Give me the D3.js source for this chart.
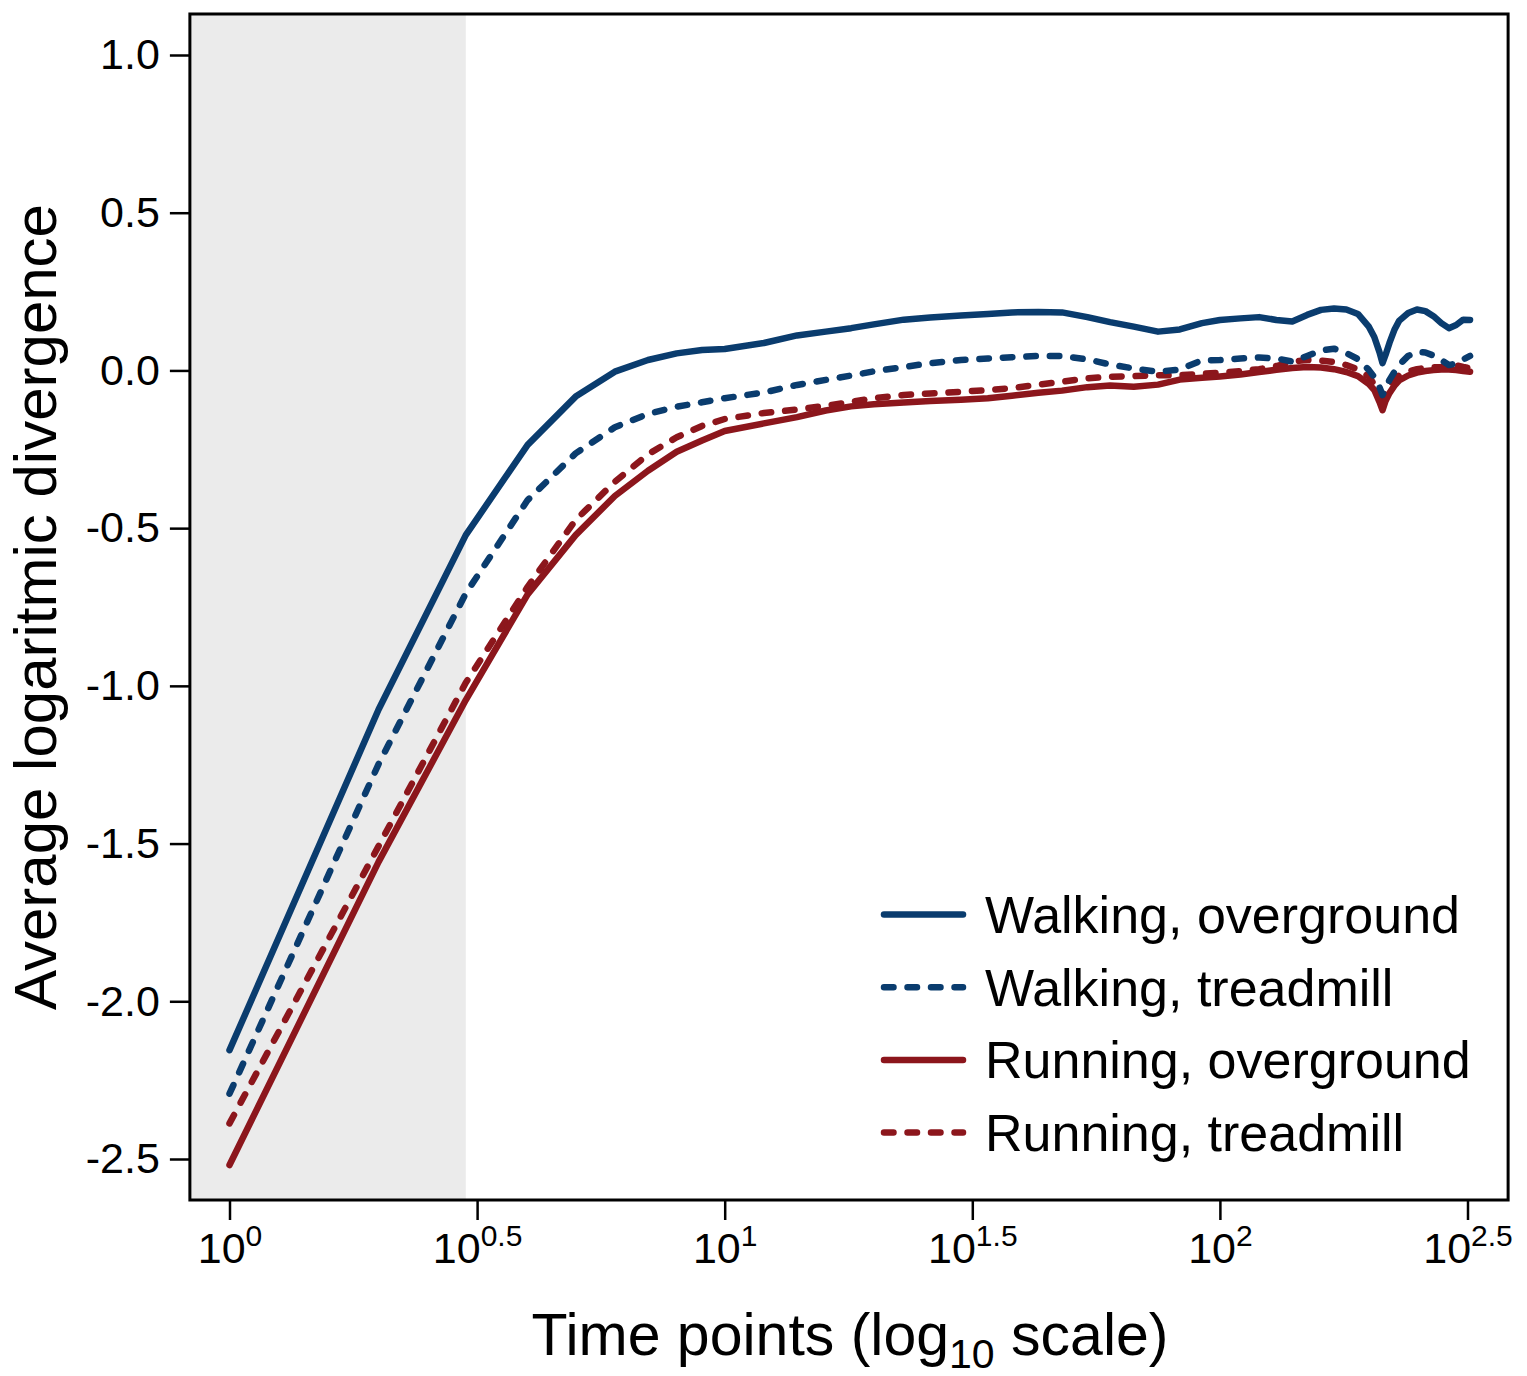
<!DOCTYPE html>
<html>
<head>
<meta charset="utf-8">
<script src="https://cdn.jsdelivr.net/npm/d3@7"></script>
<style>
  html, body { margin: 0; padding: 0; background: #ffffff; }
  svg { display: block; font-family: "Liberation Sans", Arial, Helvetica, sans-serif; }
</style>
</head>
<body>
<svg id="chart" width="1527" height="1376"></svg>
<script>
// Time points (lag, in samples) at which the divergence curves are drawn
const timePoints = [1,2,3,4,5,6,7,8,9,10,12,14,16,18,20,23,26,30,34,38,43,48,54,60,67,75,83,92,
  100,110,120,130,140,150,160,170,180,190,200,205,210,213,216,220,225,230,
  240,250,260,270,280,290,300,310,320];

const walkingOverground = [-2.155,-1.075,-0.522,-0.236,-0.083,-0.004,0.033,0.054,0.065,0.068,
  0.087,0.111,0.123,0.134,0.146,
  0.161,0.168,0.174,0.179,0.184,0.185,0.184,0.169,0.153,0.139,0.123,0.130,0.150,
  0.160,0.165,0.169,0.160,0.155,0.176,0.192,0.196,0.193,0.179,0.138,
  0.106,0.058,0.023,0.049,0.087,0.128,0.157,
  0.182,0.193,0.188,0.172,0.150,0.134,0.144,0.161,0.160];

const walkingTreadmill = [-2.293,-1.248,-0.707,-0.411,-0.263,-0.180,-0.138,-0.115,-0.101,-0.088,
  -0.070,-0.046,-0.030,-0.016,-0.003,
  0.011,0.023,0.033,0.038,0.042,0.046,0.046,0.035,0.019,0.006,-0.004,0.003,0.032,
  0.033,0.038,0.041,0.038,0.028,0.046,0.063,0.069,0.055,0.036,0.001,
  -0.021,-0.053,-0.078,-0.059,-0.030,-0.005,0.017,
  0.046,0.059,0.057,0.047,0.033,0.017,0.022,0.035,0.046];

const runningOverground = [-2.519,-1.558,-1.045,-0.710,-0.522,-0.398,-0.318,-0.258,-0.222,-0.192,
  -0.168,-0.148,-0.127,-0.114,-0.107,
  -0.102,-0.097,-0.093,-0.088,-0.080,-0.071,-0.064,-0.053,-0.048,-0.052,-0.045,-0.029,-0.023,
  -0.019,-0.013,-0.005,0.002,0.008,0.011,0.009,0.004,-0.005,-0.018,-0.043,
  -0.062,-0.100,-0.126,-0.097,-0.072,-0.049,-0.032,
  -0.016,-0.007,-0.002,0.001,0.003,0.003,0.001,-0.002,-0.004];

const runningTreadmill = [-2.387,-1.508,-0.990,-0.686,-0.474,-0.353,-0.266,-0.212,-0.176,-0.154,
  -0.135,-0.124,-0.112,-0.100,-0.088,
  -0.078,-0.073,-0.068,-0.062,-0.056,-0.045,-0.036,-0.025,-0.020,-0.018,-0.015,-0.015,-0.011,
  -0.007,-0.002,0.004,0.014,0.028,0.033,0.031,0.027,0.017,0.003,-0.019,
  -0.046,-0.072,-0.088,-0.068,-0.045,-0.027,-0.016,
  -0.003,0.004,0.008,0.010,0.011,0.016,0.016,0.011,0.007];

const seriesNames = ["Walking, overground", "Walking, treadmill", "Running, overground", "Running, treadmill"];
const seriesValues = [walkingOverground, walkingTreadmill, runningOverground, runningTreadmill];

// Tick definitions
const xTickExponents = [0, 0.5, 1, 1.5, 2, 2.5];
const xTickLabels = ["0", "0.5", "1", "1.5", "2", "2.5"];
const yTicks = [1.0, 0.5, 0.0, -0.5, -1.0, -1.5, -2.0, -2.5];
const yTickLabels = ["1.0", "0.5", "0.0", "-0.5", "-1.0", "-1.5", "-2.0", "-2.5"];

// Upper bound of the initial (short-term) region that is shaded
const shadeEnd = 3;

// Appearance
const colors = ["#0a3c6e", "#0a3c6e", "#8c161c", "#8c161c"];
const dashed = [false, true, false, true];
const dashPattern = "9.5,14";
const lineWidth = 6.5;

const svg = d3.select("#chart");

// Scales: log10 time on x, divergence on y
const x = d3.scaleLog().domain([1, Math.pow(10, 2.5)]).range([229.5, 1467.5]);
const y = d3.scaleLinear().domain([-2.5, 1]).range([1159, 55]);

const frameLeft = x(Math.pow(10, -0.08));
const frameRight = x(Math.pow(10, 2.582));
const frameTop = y(1.13);
const frameBottom = y(-2.63);

// Shaded band
svg.append("rect")
  .attr("x", frameLeft)
  .attr("y", frameTop)
  .attr("width", x(shadeEnd) - frameLeft)
  .attr("height", frameBottom - frameTop)
  .attr("fill", "#ebebeb");

// Curves
const line = d3.line()
  .x((d, i) => x(timePoints[i]))
  .y(d => y(d));

const clipId = "plot-clip";
svg.append("clipPath").attr("id", clipId)
  .append("rect")
  .attr("x", frameLeft).attr("y", frameTop)
  .attr("width", frameRight - frameLeft).attr("height", frameBottom - frameTop);

const curves = svg.append("g").attr("clip-path", `url(#${clipId})`);
// draw running first, walking on top
[3, 2, 1, 0].forEach(k => {
  curves.append("path")
    .datum(seriesValues[k])
    .attr("d", line)
    .attr("fill", "none")
    .attr("stroke", colors[k])
    .attr("stroke-width", lineWidth)
    .attr("stroke-linecap", "round")
    .attr("stroke-linejoin", "round")
    .attr("stroke-dasharray", dashed[k] ? dashPattern : null);
});

// Frame
svg.append("rect")
  .attr("x", frameLeft)
  .attr("y", frameTop)
  .attr("width", frameRight - frameLeft)
  .attr("height", frameBottom - frameTop)
  .attr("fill", "none")
  .attr("stroke", "#000")
  .attr("stroke-width", 3);

// Y axis
const yAxis = d3.axisLeft(y)
  .tickValues(yTicks)
  .tickSize(20)
  .tickPadding(10)
  .tickFormat((d, i) => yTickLabels[i]);

const gy = svg.append("g")
  .attr("transform", `translate(${frameLeft},0)`)
  .call(yAxis);
gy.select(".domain").remove();
gy.selectAll(".tick line").attr("stroke", "#000").attr("stroke-width", 2.5);
gy.selectAll(".tick text")
  .attr("font-size", 43)
  .attr("fill", "#000")
  .attr("font-family", "'Liberation Sans', Arial, sans-serif");

// X axis with powers-of-ten labels
const xAxis = d3.axisBottom(x)
  .tickValues(xTickExponents.map(e => Math.pow(10, e)))
  .tickSize(20)
  .tickFormat("");

const gx = svg.append("g")
  .attr("transform", `translate(0,${frameBottom})`)
  .call(xAxis);
gx.select(".domain").remove();
gx.selectAll(".tick line").attr("stroke", "#000").attr("stroke-width", 2.5);
gx.selectAll(".tick").each(function(d, i) {
  const t = d3.select(this).append("text")
    .attr("y", 63)
    .attr("text-anchor", "middle")
    .attr("fill", "#000")
    .attr("font-size", 43);
  t.append("tspan").text("10");
  t.append("tspan")
    .attr("dy", -17)
    .attr("font-size", 30)
    .text(xTickLabels[i]);
});

// Axis titles
const xTitle = svg.append("text")
  .attr("x", 850)
  .attr("y", 1355)
  .attr("text-anchor", "middle")
  .attr("font-size", 59)
  .attr("fill", "#000");
xTitle.append("tspan").text("Time points (log");
xTitle.append("tspan").attr("dy", 13).attr("font-size", 41).text("10");
xTitle.append("tspan").attr("dy", -13).text(" scale)");

svg.append("text")
  .attr("transform", `translate(56,${(frameTop + frameBottom) / 2}) rotate(-90)`)
  .attr("text-anchor", "middle")
  .attr("font-size", 60)
  .attr("fill", "#000")
  .text("Average logaritmic divergence");

// Legend
const legend = svg.append("g");
seriesNames.forEach((name, k) => {
  const ly = 914.5 + k * 72.7;
  legend.append("line")
    .attr("x1", 884).attr("x2", 963)
    .attr("y1", ly).attr("y2", ly)
    .attr("stroke", colors[k])
    .attr("stroke-width", lineWidth)
    .attr("stroke-linecap", "round")
    .attr("stroke-dasharray", dashed[k] ? dashPattern : null);
  legend.append("text")
    .attr("x", 985)
    .attr("y", ly + 18.5)
    .attr("font-size", 52)
    .attr("fill", "#000")
    .text(name);
});
</script>
</body>
</html>
